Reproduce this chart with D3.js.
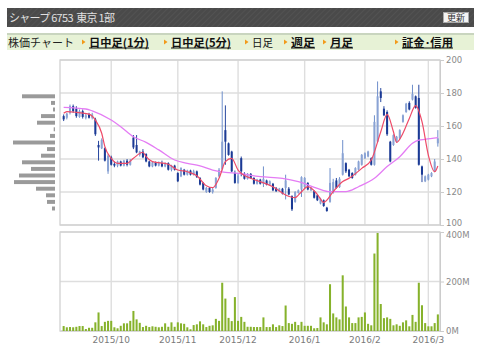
<!DOCTYPE html>
<html>
<head>
<meta charset="utf-8">
<script src="https://cdn.jsdelivr.net/npm/d3@7"></script>
<style>
  body { margin: 0; background: #fff; }
  svg text { font-family: "Noto Sans CJK JP", "DejaVu Sans", sans-serif; }
</style>
</head>
<body>
<svg id="chart" width="480" height="353"></svg>
<script>
// trading days, Sept 2015 - Mar 2016
const tradingMonths = [
  ["2015/9",  [7,8,9,10,11,14,15,16,17,18,24,25,28,29,30]],
  ["2015/10", [1,2,5,6,7,8,9,13,14,15,16,19,20,21,22,23,26,27,28,29,30]],
  ["2015/11", [2,4,5,6,9,10,11,12,13,16,17,18,19,20,24,25,26,27,30]],
  ["2015/12", [1,2,3,4,7,8,9,10,11,14,15,16,17,18,21,22,24,25,28,29,30]],
  ["2016/1",  [4,5,6,7,8,12,13,14,15,18,19,20,21,22,25,26,27,28,29]],
  ["2016/2",  [1,2,3,4,5,8,9,10,12,15,16,17,18,19,22,23,24,25,26,29]],
  ["2016/3",  [1,2,3,4]]
];
const monthTicks = ["2015/10", "2015/11", "2015/12", "2016/1", "2016/2", "2016/3"];

const open = [
  166,165,168,172,170.5,165.5,169,165,167,165, 164,148.5,146.5,146.5,132.5,141,137,136,138.5,136,
  139,136.5,153,148.5,142.5,144.5,143,138.5,135.5,138, 136,137.5,135.5,137.5,133.5,136,131.5,129.5,133.5,130.5,
  133,130.5,132.5,128.5,125.5,120,122.5,120,122.5,129.5, 134,157.5,149.5,144.5,131.5,125.5,140.5,131,128,131,
  128.5,125,127.5,125,127,124.5,125,122.5,120.5,122, 122.5,122,117.5,114,119.5,121.5,123,125.5,121,120.5,
  118,113,115,110.5,114,120.5,127,123,130.5,137.5, 133.5,131.5,130.5,133.5,136.5,140.5,141.5,140.5,136.5,150.5,
  181,170.5,168.5,150.5,148.5,150.5,152.5,162.5,168.5,174, 176,178,177,135.5,126.5,127.5,129.5,132.5,149.5
];
const high = [
  167,168,173,173,172,170,170,167.5,168,168, 165,151,152.5,147,143,142,138.5,139,139,139.5,
  140,140,154.5,154.5,145,146,143.5,139,138.5,138.5, 138.5,139,138,138,136.5,136.5,132,135,134,133.5,
  133.5,133.5,133,129,126,123,123,122.5,129,134.5, 181,172.5,150,145,133,131.5,141.5,132,131.5,131.5,
  129,128,128,135.5,127.5,127,125.5,123,122.5,122.5, 130.5,123,118,120.5,121.5,129.5,129,126,123,121,
  118.5,116.5,115.5,111,134.5,128,128.5,129,151.5,138, 134,132,135,139,143,144,145,141,166.5,187,
  183,172,169.5,151,155,154,158,167,174,175, 185,178.5,185,136,130,131,132,140,157.5
];
const low = [
  163,164,167,168,165,165,164.5,164,164.5,164, 154,139,146,138.5,131,136,135,135,135.5,135.5,
  135.5,136,146,143.5,141.5,140.5,138,135,135,135.5, 135.5,135,135,133,132.5,133,126,129,130,130,
  130,130,128.5,124,121,119.5,119.5,119,122,129, 133,136.5,142,132,125,125,129.5,127.5,127.5,128,
  124.5,124.5,124.5,123,124,124,120.5,120,120,118.5, 115.5,118,108.5,113.5,119,117,122.5,121,120.5,116,
  114.5,112.5,111,108,113.5,119,122,122.5,130,131.5, 129,128,130,133,136,140,141,136,136,150,
  174.5,166,154,138,148,150,152,162,168,169.5, 175.5,170.5,136,126,126,127,129,132,147.5
];
const close = [
  164,167.5,172,169,166,169,165.5,166.5,165,167, 155,147,151.5,139,142,136.5,136,138.5,136,139,
  136.5,139,147,144,144.5,141,138.5,135.5,138,136, 137.5,135.5,137,133.5,136,133.5,126.5,134.5,130.5,133,
  130.5,132.5,129,124.5,121.5,122.5,120,121.5,128.5,133.5, 150.5,150.5,142.5,132.5,125.5,130,132.5,128,131,128.5,
  125,127.5,125,128,124.5,126.5,121,120.5,122,119, 127,118.5,109.5,120,121,129,128.5,121.5,122.5,116.5,
  115,116,111.5,108.5,125.5,126,122.5,128,143.5,132.5, 129.5,128.5,134.5,138.5,142.5,143.5,144.5,136.5,162.5,178,
  177,166.5,155,138.5,154.5,153.5,157.5,166.5,173.5,170, 179.5,171,136.5,130.5,129.5,130.5,131.5,138.5,152.5
];
// volume, millions of shares
const volume = [
  20,15,16,15,17,20,20,8,13,13, 35,75,20,37,41,41,15,11,21,31,
  31,41,81,47,33,16,21,16,19,17, 15,17,31,17,35,17,35,31,29,15,
  7,24,27,39,27,16,21,23,49,41, 195,131,53,40,137,41,57,37,17,17,
  16,16,16,55,16,16,27,16,23,20, 103,32,29,37,24,37,21,21,21,11,
  12,55,35,27,189,71,55,47,225,99, 55,32,32,55,57,75,29,23,313,396,
  109,52,55,49,23,27,21,35,43,19, 65,37,195,104,32,19,19,32,67
];
// moving averages: [day index, value]
const ma5 = [
  [0,167.7],[1,168.7],[4,168.3],[8,167.2],[10,163.6],[12,155.6],[13,147.5],[15,140.4],[17,137.4],[20,137.4],
  [22,140.4],[25,144.1],[26,141.4],[28,138.4],[33,136.8],[36,133.3],[39,132.3],[42,129.9],[45,123.8],[47,122.6],
  [49,128.3],[51,138.4],[53,140.4],[55,133.3],[56,131.3],[59,128.3],[62,126.3],[66,123.2],[70,118.2],[73,116.6],
  [75,120.2],[77,123.2],[80,118.6],[82,113.7],[85,120.2],[88,126.3],[90,128.3],[94,134.3],[97,139.4],[100,156.5],
  [102,167.1],[104,156.5],[105,150.1],[107,155.6],[109,164.6],[111,172.3],[113,162.6],[115,142.4],[117,132.3],[118,135.8]
];
const ma25 = [
  [0,171.3],[7,170.3],[9,169.2],[15,163.6],[18,159.6],[22,153.5],[26,150.1],[30,145.5],[35,139.4],[39,137.4],
  [43,135.8],[47,133.3],[51,131.9],[55,131.3],[62,129.3],[69,128.3],[74,126.3],[80,122.2],[84,120.2],[89,120.2],
  [93,123.2],[98,128.3],[102,135.4],[106,141.4],[110,149.5],[112,151.5],[114,151.9],[118,152.9]
];
// volume by price band (left histogram)
const vpPrice = [178,174,170,166,162,158,154,150,146,142,138,134,130,126,122,118,114,110];
const vpVolume = [33,4,2,14,18,1.3,5,42,8,14,33,24,36,41,19,9,8,3];
const priceTicks = [100,120,140,160,180,200];
const volTicks = [0,200,400];

const svg = d3.select("#chart");

// ---- header ----
const defs = svg.append("defs");
const hatch = defs.append("pattern").attr("id", "hatch").attr("width", 4).attr("height", 4)
  .attr("patternUnits", "userSpaceOnUse").attr("patternTransform", "rotate(45)");
hatch.append("rect").attr("width", 4).attr("height", 4).attr("fill", "#4a4a4a");
hatch.append("line").attr("x1", 0).attr("y1", 0).attr("x2", 0).attr("y2", 4)
  .attr("stroke", "#555").attr("stroke-width", 1.5);

svg.append("rect").attr("x", 7).attr("y", 8).attr("width", 467).attr("height", 19).attr("fill", "url(#hatch)");
svg.append("text").attr("x", 9).attr("y", 21.5).attr("font-size", 11).attr("fill", "#e0e0e0")
  .style("white-space", "pre")
  .attr("textLength", 106).attr("lengthAdjust", "spacing")
  .text("シャープ 6753  東京 1部");
svg.append("rect").attr("x", 443.5).attr("y", 12.5).attr("width", 25).attr("height", 10)
  .attr("fill", "#f4f4f4").attr("stroke", "#aaa");
svg.append("text").attr("x", 456).attr("y", 21).attr("font-size", 9).attr("text-anchor", "middle")
  .attr("fill", "#333").text("更新");

// ---- nav bar ----
svg.append("rect").attr("x", 7).attr("y", 33).attr("width", 467).attr("height", 17).attr("fill", "#e7f2d6");
svg.append("rect").attr("x", 7).attr("y", 33).attr("width", 467).attr("height", 2).attr("fill", "#c9d5bf");
svg.append("text").attr("x", 8).attr("y", 46.5).attr("font-size", 11).attr("fill", "#222").text("株価チャート");

const navLinks = [
  { label: "日中足(1分)", x: 82, link: true, w: 60 },
  { label: "日中足(5分)", x: 164, link: true, w: 60 },
  { label: "日足", x: 245, link: false, w: 21 },
  { label: "週足", x: 284, link: true, w: 24 },
  { label: "月足", x: 323, link: true, w: 23 },
  { label: "証金･信用", x: 395, link: true, w: 51 }
];
const nav = svg.append("g").selectAll("g").data(navLinks).join("g");
nav.append("path")
  .attr("d", d => `M${d.x},${39.5}L${d.x + 3.5},${42}L${d.x},${44.5}Z`)
  .attr("fill", "#f29a1a");
nav.append("text")
  .attr("x", d => d.x + 7).attr("y", 46.5)
  .attr("font-size", 11)
  .attr("font-weight", d => d.link ? "bold" : "normal")
  .attr("textLength", d => d.w).attr("lengthAdjust", "spacingAndGlyphs")
  .attr("fill", "#111")
  .text(d => d.label);
nav.filter(d => d.link).append("line")
  .attr("x1", d => d.x + 7).attr("x2", d => d.x + 7 + d.w)
  .attr("y1", 48).attr("y2", 48).attr("stroke", "#111").attr("stroke-width", 1);

// ---- scales ----
const idx = d3.range(open.length);
const x = d3.scaleBand().domain(idx).range([61.5, 440]).padding(0.36);
const cx = i => x(i) + x.bandwidth() / 2;
const yP = d3.scaleLinear().domain([100, 200]).range([225, 60]);
const yV = d3.scaleLinear().domain([0, 400]).range([331, 232]);

// first trading day of each labelled month
let k = 0;
const monthStart = {};
tradingMonths.forEach(([m, days]) => { monthStart[m] = k; k += days.length; });

const gridColor = "#dedede";

function panel(top, bottom, yScale, ticks, fmt, nudge) {
  const g = svg.append("g");
  g.selectAll(".hg").data(ticks).join("line")
    .attr("x1", 60).attr("x2", 440)
    .attr("y1", d => yScale(d)).attr("y2", d => yScale(d))
    .attr("stroke", gridColor).attr("stroke-width", 1.4);
  g.selectAll(".vg").data(monthTicks).join("line")
    .attr("x1", d => cx(monthStart[d])).attr("x2", d => cx(monthStart[d]))
    .attr("y1", top).attr("y2", bottom)
    .attr("stroke", gridColor).attr("stroke-width", 1.4);
  g.append("rect").attr("x", 60).attr("y", top).attr("width", 380).attr("height", bottom - top)
    .attr("fill", "none").attr("stroke", "#d2d2d2").attr("stroke-width", 1.3);
  const ax = g.append("g").attr("transform", "translate(440,0)")
    .call(d3.axisRight(yScale).tickValues(ticks).tickSize(4).tickFormat(fmt));
  ax.select(".domain").attr("stroke", "#ccc");
  ax.selectAll(".tick line").attr("stroke", "#ccc");
  ax.selectAll(".tick text").attr("fill", "#8a8a8a").attr("font-size", 8.5).attr("x", 6)
    .attr("transform", d => `translate(0,${nudge(d)})`)
    .style("font-family", "DejaVu Sans, sans-serif");
}
panel(60, 225, yP, priceTicks, d => d, d => d === 100 ? -2 : 0);
panel(232, 331, yV, volTicks, d => d + "M", d => d === 400 ? 3 : 0);

// ---- candles ----
const cg = svg.append("g");
cg.selectAll(".wick").data(idx).join("line")
  .attr("x1", cx).attr("x2", cx)
  .attr("y1", i => yP(high[i])).attr("y2", i => yP(low[i]))
  .attr("stroke", i => close[i] >= open[i] ? "#6f8fcb" : "#27479f").attr("stroke-width", 1);
cg.selectAll(".body").data(idx).join("rect")
  .attr("x", i => x(i)).attr("width", x.bandwidth())
  .attr("y", i => yP(Math.max(open[i], close[i])))
  .attr("height", i => Math.max(1, Math.abs(yP(open[i]) - yP(close[i]))))
  .attr("fill", i => close[i] >= open[i] ? "#8aa3d4" : "#1b3a95");

// ---- moving averages ----
const line = d3.line().x(d => cx(d[0])).y(d => yP(d[1])).curve(d3.curveMonotoneX);
svg.append("path").attr("d", line(ma25)).attr("fill", "none").attr("stroke", "#e47cf4").attr("stroke-width", 1.3);
svg.append("path").attr("d", line(ma5)).attr("fill", "none").attr("stroke", "#ee4a68").attr("stroke-width", 1.2);

// ---- volume bars ----
svg.append("g").selectAll("rect").data(idx).join("rect")
  .attr("x", i => x(i)).attr("width", x.bandwidth())
  .attr("y", i => yV(volume[i])).attr("height", i => yV(0) - yV(volume[i]))
  .attr("fill", "#86b22b");

// ---- volume by price ----
const xH = d3.scaleLinear().domain([0, 42]).range([55, 13]);
const bandH = Math.abs(yP(0) - yP(4)) * 0.6;
svg.append("g").selectAll("rect").data(vpPrice).join("rect")
  .attr("x", (d, i) => xH(vpVolume[i])).attr("width", (d, i) => 55 - xH(vpVolume[i]))
  .attr("y", d => yP(d) - bandH / 2).attr("height", bandH)
  .attr("fill", "#9a9a9a");

// ---- date labels ----
svg.append("g").selectAll("text").data(monthTicks).join("text")
  .attr("x", d => cx(monthStart[d])).attr("y", 343)
  .attr("text-anchor", "middle").attr("font-size", 9).attr("fill", "#7a7a7a")
  .style("font-family", "DejaVu Sans, sans-serif")
  .text(d => d);
</script>
</body>
</html>
